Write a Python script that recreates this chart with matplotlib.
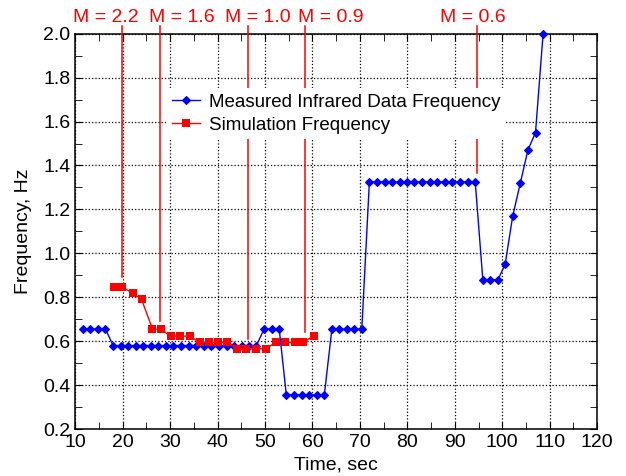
import matplotlib
matplotlib.use('Agg')
import matplotlib.pyplot as plt
from matplotlib.ticker import MultipleLocator

plt.rcParams['font.family'] = ['Liberation Sans', 'DejaVu Sans']

# 测量数据 (蓝)
t_meas = [11.6, 13.2, 14.8, 16.4,
          18.0, 19.6, 21.2, 22.8, 24.4, 25.9, 27.5, 29.1, 30.7, 32.3,
          33.9, 35.5, 37.1, 38.7, 40.3, 41.9, 43.5, 45.1, 46.6, 48.2,
          49.8, 51.4, 53.0,
          54.5, 56.1, 57.7, 59.3, 60.9, 62.5,
          64.1, 65.7, 67.3, 68.8, 70.4,
          72.0, 73.6, 75.2, 76.8, 78.4, 80.0, 81.5, 83.1, 84.7, 86.3,
          87.9, 89.5, 91.1, 92.7, 94.3,
          95.9, 97.5, 99.1, 100.6, 102.2, 103.8, 105.4, 107.0, 108.6]
f_meas = [0.655, 0.655, 0.655, 0.655,
          0.58, 0.58, 0.58, 0.58, 0.58, 0.58, 0.58, 0.58, 0.58, 0.58,
          0.58, 0.58, 0.58, 0.58, 0.58, 0.58, 0.58, 0.58, 0.58, 0.58,
          0.655, 0.655, 0.655,
          0.355, 0.355, 0.355, 0.355, 0.355, 0.355,
          0.655, 0.655, 0.655, 0.655, 0.655,
          1.325, 1.325, 1.325, 1.325, 1.325, 1.325, 1.325, 1.325, 1.325, 1.325,
          1.325, 1.325, 1.325, 1.325, 1.325,
          0.88, 0.88, 0.88, 0.95, 1.17, 1.32, 1.47, 1.55, 2.0]

# 仿真数据 (红)
t_sim = [18.1, 19.9, 22.1, 24.0, 26.3, 28.0, 30.1, 32.2, 34.1, 36.3, 38.2,
         40.2, 42.1, 44.2, 46.1, 48.2, 50.2, 52.3, 54.2, 56.3, 58.1, 60.3]
f_sim = [0.845, 0.845, 0.82, 0.79, 0.655, 0.655, 0.623, 0.623, 0.623, 0.594, 0.594,
         0.594, 0.594, 0.566, 0.566, 0.566, 0.566, 0.595, 0.595, 0.595, 0.595, 0.624]

# M 标注
m_labels = ['M = 2.2', 'M = 1.6', 'M = 1.0', 'M = 0.9', 'M = 0.6']
m_line_t = [19.9, 27.9, 46.4, 58.5, 94.6]
m_line_end = [0.89, 0.69, 0.61, 0.64, 1.365]
m_text_t = [9.5, 25.5, 41.6, 56.9, 86.9]

fig = plt.figure(figsize=(6.26, 4.76), dpi=100)
ax = fig.add_axes([0.120, 0.0987, 0.834, 0.8305])

for lab, tl, ye, tt in zip(m_labels, m_line_t, m_line_end, m_text_t):
    ax.plot([tl, tl], [2.035, ye], color='red', lw=1.1, clip_on=False, zorder=3)
    ax.text(tt, 2.053, lab, color='red', fontsize=14, ha='left', va='baseline')

ax.plot(t_meas, f_meas, color='blue', lw=1, marker='D', ms=4, mew=0.8,
        label='Measured Infrared Data Frequency', clip_on=False, zorder=4)
ax.plot(t_sim, f_sim, color='red', lw=1, marker='s', ms=6.3, mew=0,
        label='Simulation Frequency', zorder=5)

ax.set_xlim(10, 120)
ax.set_ylim(0.2, 2.0)
ax.xaxis.set_major_locator(MultipleLocator(10))
ax.xaxis.set_minor_locator(MultipleLocator(5))
ax.yaxis.set_major_locator(MultipleLocator(0.2))
ax.yaxis.set_minor_locator(MultipleLocator(0.1))
ax.yaxis.set_major_formatter(plt.FormatStrFormatter('%.1f'))
ax.tick_params(which='both', direction='in', top=True, right=True, labelsize=14)
ax.tick_params(which='major', length=5)
ax.tick_params(which='minor', length=5)
ax.grid(True, which='major', linestyle=':', color='black', lw=0.9)
ax.set_axisbelow(True)
for s in ax.spines.values():
    s.set_linewidth(1.1)

ax.set_xlabel('Time, sec', fontsize=14, labelpad=4)
ax.set_ylabel('Frequency, Hz', fontsize=14, labelpad=8)

leg = ax.legend(loc='upper left', bbox_to_anchor=(0.174, 0.862), fontsize=13.5,
                frameon=True, fancybox=False, borderpad=0.3, handlelength=1.5,
                handletextpad=0.5, labelspacing=0.3, borderaxespad=0)
leg.get_frame().set_edgecolor('none')
leg.get_frame().set_facecolor('white')
leg.get_frame().set_alpha(1)

plt.savefig('out.png', dpi=100)
